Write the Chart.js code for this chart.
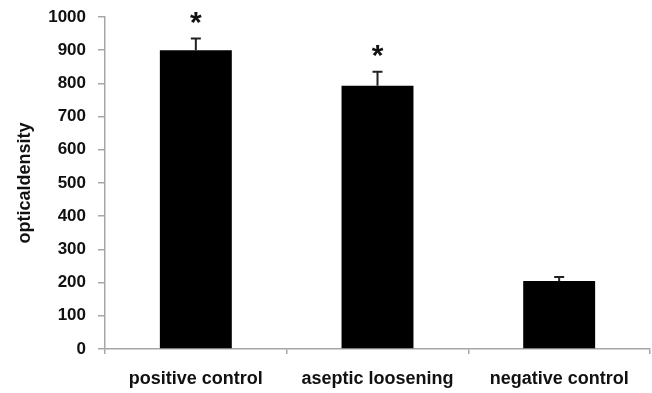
<!DOCTYPE html>
<html>
<head>
<meta charset="utf-8">
<script src="https://cdn.jsdelivr.net/npm/chart.js@4/dist/chart.umd.min.js"></script>
<style>
  html, body { margin: 0; padding: 0; background: #fff; }
  .chart-container { width: 652px; height: 393px; }
</style>
</head>
<body>
<div class="chart-container">
  <canvas id="densityChart" width="652" height="393"></canvas>
</div>
<script>
const categories = ['positive control', 'aseptic loosening', 'negative control'];
const densityValues = [900, 793, 205];
const densityErrors = [35, 42, 12];
const significant = [true, true, false];

const axisGray = '#a6a6a6';
const fontFamily = '"Liberation Sans", Arial, sans-serif';

// draws the error bar above each bar and a star where significant
const errorBarPlugin = {
  id: 'errorBars',
  afterDatasetsDraw(chart) {
    const ctx = chart.ctx;
    const yScale = chart.scales.y;
    const meta = chart.getDatasetMeta(0);
    ctx.save();
    meta.data.forEach((bar, i) => {
      const x = bar.x;
      const yTop = yScale.getPixelForValue(densityValues[i] + densityErrors[i]);
      const yBase = yScale.getPixelForValue(densityValues[i]);
      ctx.strokeStyle = '#222';
      ctx.lineWidth = 2;
      ctx.beginPath();
      ctx.moveTo(x, yBase);
      ctx.lineTo(x, yTop);
      ctx.moveTo(x - 5, yTop);
      ctx.lineTo(x + 5, yTop);
      ctx.stroke();

      if (significant[i]) {
        const size = 30;
        ctx.fillStyle = '#111';
        ctx.font = 'bold ' + size + 'px ' + fontFamily;
        ctx.textAlign = 'center';
        ctx.textBaseline = 'alphabetic';
        ctx.fillText('*', x, yTop - 20 + 0.437 * size);
      }
    });
    ctx.restore();
  }
};

const ctx = document.getElementById('densityChart').getContext('2d');
const chart = new Chart(ctx, {
  type: 'bar',
  data: {
    labels: categories,
    datasets: [{
      label: 'optical density',
      data: densityValues,
      backgroundColor: '#000',
      borderWidth: 0,
      barPercentage: 0.396,
      categoryPercentage: 1
    }]
  },
  options: {
    responsive: false,
    animation: false,
    layout: { padding: { top: 17, right: 2, bottom: 0, left: 0 } },
    plugins: {
      legend: { display: false },
      tooltip: { enabled: false }
    },
    scales: {
      x: {
        afterFit(scale) {
          scale.height = 44;
          scale.paddingLeft = 0;
          scale.paddingRight = 0;
        },
        border: { color: axisGray, width: 1.5 },
        grid: {
          offset: true,
          drawOnChartArea: false,
          color: axisGray,
          tickLength: 5,
          lineWidth: 1.5
        },
        ticks: {
          color: '#111',
          padding: 14,
          maxRotation: 0,
          font: { family: fontFamily, size: 18, weight: 'bold' }
        }
      },
      y: {
        min: 0,
        max: 1000,
        afterFit(scale) {
          scale.width = 105;
          scale.paddingTop = 0;
          scale.paddingBottom = 0;
        },
        border: { color: axisGray, width: 1.5 },
        grid: {
          drawOnChartArea: false,
          color: axisGray,
          tickLength: 7,
          lineWidth: 1.5
        },
        ticks: {
          stepSize: 100,
          color: '#111',
          padding: 12,
          callback: value => String(value),
          font: { family: fontFamily, size: 17, weight: 'bold' }
        },
        title: {
          display: true,
          text: 'opticaldensity',
          color: '#111',
          padding: { top: 14, bottom: 0 },
          font: { family: fontFamily, size: 18, weight: 'bold' }
        }
      }
    }
  },
  plugins: [errorBarPlugin]
});
</script>
</body>
</html>
